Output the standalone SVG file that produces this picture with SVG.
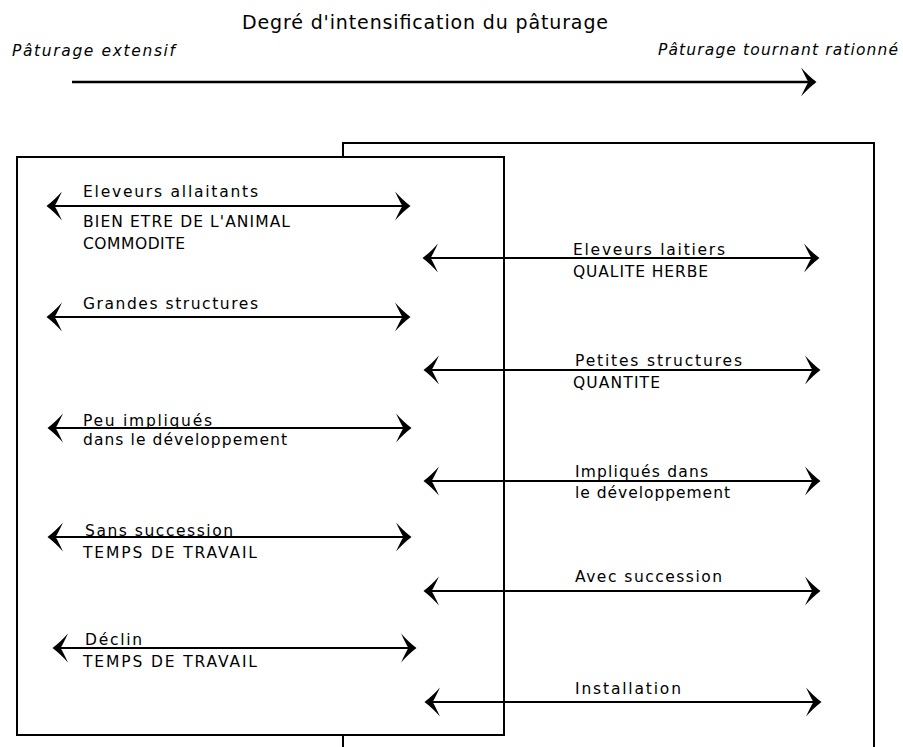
<svg xmlns="http://www.w3.org/2000/svg" width="903" height="747" viewBox="0 0 903 747">
<style>
.t{font-family:"DejaVu Sans","Liberation Sans",Arial,sans-serif;font-size:15.5px;fill:#000}
.ttl{font-size:19px}
.it{font-style:italic}
.ln{stroke:#000;stroke-width:2;fill:none}
.box{stroke:#000;stroke-width:2;fill:#fff}
</style>
<defs>
<marker id="ah" viewBox="-15 -15 17 30" refX="0" refY="0" markerWidth="17" markerHeight="30" markerUnits="userSpaceOnUse" orient="auto-start-reverse">
<path d="M1.5,0 C-4,-4 -9,-9 -14,-14.5 C-11,-8 -8.5,-3 -6.5,0 C-8.5,3 -11,8 -14,14.5 C-9,9 -4,4 1.5,0 Z" fill="#000"/>
</marker>
</defs>
<rect width="903" height="747" fill="#fff"/>
<g id="header">
<text class="t ttl" x="242" y="29" textLength="366" lengthAdjust="spacing">Degré d'intensification du pâturage</text>
<text class="t it" x="12" y="56" textLength="163" lengthAdjust="spacing">Pâturage extensif</text>
<text class="t it" x="658" y="55" textLength="240" lengthAdjust="spacing">Pâturage tournant rationné</text>
</g>
<g id="box-right"><rect class="box" x="343" y="143" width="531" height="630"/></g>
<g id="box-left"><rect class="box" x="17" y="157" width="487" height="578"/></g>
<g id="connectors" class="ln">
<line x1="72" y1="82" x2="815" y2="82" stroke-width="2.5" marker-end="url(#ah)"/>
<line x1="48" y1="206" x2="409" y2="206" marker-start="url(#ah)" marker-end="url(#ah)"/>
<line x1="48" y1="317" x2="409" y2="317" marker-start="url(#ah)" marker-end="url(#ah)"/>
<line x1="49" y1="428" x2="410" y2="428" marker-start="url(#ah)" marker-end="url(#ah)"/>
<line x1="49" y1="537" x2="410" y2="537" marker-start="url(#ah)" marker-end="url(#ah)"/>
<line x1="54" y1="648" x2="415" y2="648" marker-start="url(#ah)" marker-end="url(#ah)"/>
<line x1="424" y1="258" x2="818" y2="258" marker-start="url(#ah)" marker-end="url(#ah)"/>
<line x1="425" y1="370" x2="819" y2="370" marker-start="url(#ah)" marker-end="url(#ah)"/>
<line x1="425" y1="481" x2="819" y2="481" marker-start="url(#ah)" marker-end="url(#ah)"/>
<line x1="425" y1="591" x2="819" y2="591" marker-start="url(#ah)" marker-end="url(#ah)"/>
<line x1="426" y1="702" x2="820" y2="702" marker-start="url(#ah)" marker-end="url(#ah)"/>
</g>
<g id="row-eleveurs-allaitants">
<text class="t" x="83" y="197" textLength="175" lengthAdjust="spacing">Eleveurs allaitants</text>
<text class="t" x="83" y="227" textLength="207" lengthAdjust="spacing">BIEN ETRE DE L'ANIMAL</text>
<text class="t" x="83" y="249" textLength="102" lengthAdjust="spacing">COMMODITE</text>
</g>
<g id="row-grandes-structures">
<text class="t" x="83" y="309" textLength="175" lengthAdjust="spacing">Grandes structures</text>
</g>
<g id="row-peu-impliques">
<text class="t" x="83" y="426" textLength="129" lengthAdjust="spacing">Peu impliqués</text>
<text class="t" x="83" y="445" textLength="204" lengthAdjust="spacing">dans le développement</text>
</g>
<g id="row-sans-succession">
<text class="t" x="85" y="536" textLength="148" lengthAdjust="spacing">Sans succession</text>
<text class="t" x="83" y="558" textLength="174" lengthAdjust="spacing">TEMPS DE TRAVAIL</text>
</g>
<g id="row-declin">
<text class="t" x="85" y="645" textLength="57" lengthAdjust="spacing">Déclin</text>
<text class="t" x="83" y="667" textLength="174" lengthAdjust="spacing">TEMPS DE TRAVAIL</text>
</g>
<g id="row-eleveurs-laitiers">
<text class="t" x="573" y="255" textLength="152" lengthAdjust="spacing">Eleveurs laitiers</text>
<text class="t" x="573" y="277" textLength="135" lengthAdjust="spacing">QUALITE HERBE</text>
</g>
<g id="row-petites-structures">
<text class="t" x="575" y="366" textLength="167" lengthAdjust="spacing">Petites structures</text>
<text class="t" x="573" y="388" textLength="87" lengthAdjust="spacing">QUANTITE</text>
</g>
<g id="row-impliques">
<text class="t" x="575" y="477" textLength="133" lengthAdjust="spacing">Impliqués dans</text>
<text class="t" x="575" y="498" textLength="155" lengthAdjust="spacing">le développement</text>
</g>
<g id="row-avec-succession">
<text class="t" x="575" y="582" textLength="147" lengthAdjust="spacing">Avec succession</text>
</g>
<g id="row-installation">
<text class="t" x="575" y="694" textLength="106" lengthAdjust="spacing">Installation</text>
</g>
</svg>
